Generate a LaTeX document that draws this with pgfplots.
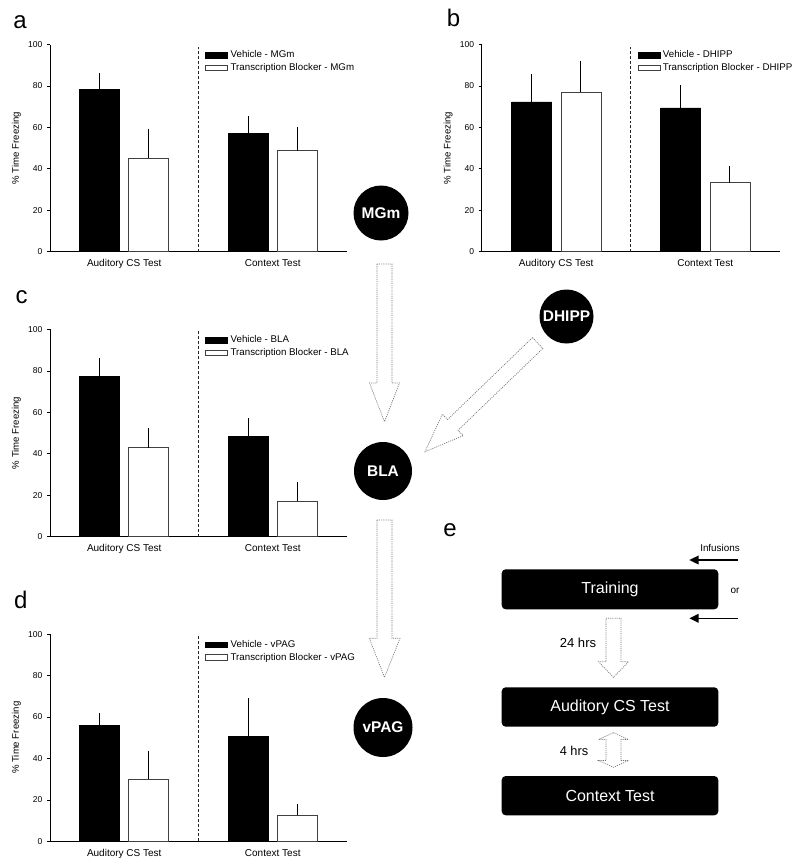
\documentclass[border=0pt]{standalone}
\usepackage{fontspec}
\setmainfont{Liberation Sans}
\usepackage{pgfplots}
\usepackage{pgfplotstable}
\pgfplotsset{compat=1.18}
\usetikzlibrary{arrows.meta}

% xv/xt: bar centres of Vehicle / Transcription Blocker bars (groups at 0 and 1)
\pgfplotstableread{
xv xt veh vehe tb tbe
-0.1655 0.1655 78.3 6.3 45.0 12.9
0.8345 1.1655 56.9 7.1 48.7 9.8
}\dataA
\pgfplotstableread{
xv xt veh vehe tb tbe
-0.1655 0.1655 72.3 12.1 76.9 13.5
0.8345 1.1655 69.4 9.4 33.3 6.6
}\dataB
\pgfplotstableread{
xv xt veh vehe tb tbe
-0.1655 0.1655 77.3 7.4 43.0 7.7
0.8345 1.1655 48.5 7.1 17.1 7.7
}\dataC
\pgfplotstableread{
xv xt veh vehe tb tbe
-0.1655 0.1655 55.8 4.4 30.0 12.2
0.8345 1.1655 50.7 16.7 12.6 4.0
}\dataD

\pgfplotsset{
  panel/.style={
    scale only axis, width=222.75pt, height=155.4pt,
    xmin=-0.5, xmax=1.5, ymin=0, ymax=100,
    axis x line*=bottom, axis y line*=left,
    axis line style={-, line width=0.6pt},
    xtick={0,1}, xticklabels={Auditory CS Test, Context Test},
    xtick style={draw=none},
    ytick={0,20,40,60,80,100},
    tick align=outside, major tick length=2.25pt,
    ytick style={line width=0.6pt, black},
    /pgf/number format/assume math mode=true,
    yticklabel style={font=\fontsize{6.4}{7.5}\selectfont},
    xticklabel style={font=\fontsize{7.5}{9}\selectfont},
    ylabel={\% Time Freezing},
    every axis y label/.style={at={(axis description cs:-0.113,0.5)}, rotate=90, anchor=center, font=\fontsize{7.2}{8.5}\selectfont},
    clip=false,
    legend style={at={(axis description cs:0.522,0.985)}, anchor=north west, draw=none, fill=none,
      font=\fontsize{7.3}{8}\selectfont, inner sep=0pt, row sep=-1.2pt},
    legend cell align=left,
  },
  ebar/.style={error bars/.cd, y dir=plus, y explicit,
    error bar style={line width=0.6pt, black},
    error mark options={mark size=2.4pt, line width=0.6pt, black}},
}

\newcommand{\bars}[2]{%
  \addlegendimage{legend image code/.code={\draw[fill=black,draw=black] (0pt,-2.2pt) rectangle (16.5pt,2.2pt);}}
  \addlegendentry{Vehicle - #2}
  \addlegendimage{legend image code/.code={\draw[fill=white,draw=black!75,line width=0.5pt] (0pt,-2.2pt) rectangle (16.5pt,2.2pt);}}
  \addlegendentry{Transcription Blocker - #2}
  \addplot[ybar, forget plot, bar width=30pt, bar shift=0pt, fill=black, draw=black, line width=0.5pt, ebar]
    table[x=xv, y=veh, y error=vehe] {#1};
  \addplot[ybar, forget plot, bar width=30pt, bar shift=0pt, fill=white, draw=black!75, line width=0.5pt, ebar]
    table[x=xt, y=tb, y error=tbe] {#1};
  \draw[black!85, line width=0.75pt, dash pattern=on 2.2pt off 1.5pt] (axis cs:0.5,0) -- (axis cs:0.5,100);
}

\begin{document}
\begin{tikzpicture}
\begin{scope}[x=0.75pt, y=-0.75pt]
  \useasboundingbox (0,0) rectangle (800,865);
\end{scope}

% panel a
\begin{axis}[panel, at={(37.5pt,-188.78pt)}, anchor=south west]
  \bars{\dataA}{MGm}
\end{axis}
% panel b
\begin{axis}[panel, width=223.5pt, at={(361.3pt,-188.78pt)}, anchor=south west]
  \bars{\dataB}{DHIPP}
\end{axis}
% panel c
\begin{axis}[panel, at={(37.5pt,-402.5pt)}, anchor=south west]
  \bars{\dataC}{BLA}
\end{axis}
% panel d
\begin{axis}[panel, at={(37.5pt,-631.0pt)}, anchor=south west]
  \bars{\dataD}{vPAG}
\end{axis}

\begin{scope}[x=0.75pt, y=-0.75pt]
  % panel letters
  \node[anchor=base, font=\fontsize{18}{20}\selectfont, inner sep=0pt] at (20,28.3) {a};
  \node[anchor=base, font=\fontsize{18}{20}\selectfont, inner sep=0pt] at (453.5,26.7) {b};
  \node[anchor=base, font=\fontsize{18}{20}\selectfont, inner sep=0pt] at (21.7,303.3) {c};
  \node[anchor=base, font=\fontsize{18}{20}\selectfont, inner sep=0pt] at (20.8,608.3) {d};
  \node[anchor=base, font=\fontsize{18}{20}\selectfont, inner sep=0pt] at (450,536.7) {e};

  % circles
  \fill[black] (381,213) circle[radius=27.5];
  \node[white, font=\bfseries\fontsize{11.6}{13}\selectfont] at (381,213) {MGm};
  \fill[black] (566.5,316.5) circle[radius=27];
  \node[white, font=\bfseries\fontsize{11.6}{13}\selectfont] at (566.5,316.5) {DHIPP};
  \fill[black] (383,471) circle[radius=29];
  \node[white, font=\bfseries\fontsize{11.6}{13}\selectfont] at (383,471) {BLA};
  \fill[black] (383,727.5) circle[radius=29.5];
  \node[white, font=\bfseries\fontsize{11.6}{13}\selectfont] at (383,727.5) {vPAG};

  % dotted block arrows
  \tikzset{blk/.style={draw=black!55, line width=0.5pt, dash pattern=on 0.8pt off 0.8pt}}
  \draw[blk] (377,264) -- (392,264) -- (392,383) -- (399.5,383) -- (384.5,421.7) -- (369.5,383) -- (377,383) -- cycle;
  \draw[blk] (377,520) -- (392,520) -- (392,638.3) -- (400,638.3) -- (384.5,677.3) -- (369.3,638.3) -- (377,638.3) -- cycle;
  \draw[blk] (532.5,337.6) -- (447.6,419.5) -- (442.4,414.1) -- (425,451.7) -- (463.2,435.7) -- (458,430.3) -- (542.9,348.4) -- cycle;
  % panel e arrows
  \draw[blk] (606,618.3) -- (621,618.3) -- (621,661.7) -- (628.5,661.7) -- (613.5,677.3) -- (598.5,661.7) -- (606,661.7) -- cycle;
  \draw[blk] (613.5,732.7) -- (628.5,739.5) -- (621,739.5) -- (621,760.5) -- (628.5,760.5) -- (613.5,767.3) -- (598.5,760.5) -- (606,760.5) -- (606,739.5) -- (598.5,739.5) -- cycle;

  % boxes
  \fill[black, rounded corners=3pt] (501.7,569.3) rectangle (718.3,609.3);
  \node[white, font=\fontsize{12}{14}\selectfont] at (610,589.3) {Training};
  \fill[black, rounded corners=3pt] (501.7,687.3) rectangle (718.3,726.7);
  \node[white, font=\fontsize{12}{14}\selectfont] at (610,707) {Auditory CS Test};
  \fill[black, rounded corners=3pt] (501.7,776) rectangle (718.3,815.3);
  \node[white, font=\fontsize{12}{14}\selectfont] at (610,795.7) {Context Test};

  % infusion arrows and labels
  \draw[line width=1.1pt, -{Triangle[length=7pt,width=6.5pt]}] (738,560) -- (689.3,560);
  \draw[line width=1.1pt, -{Triangle[length=7pt,width=6.5pt]}] (738,618.3) -- (689.3,618.3);
  \node[font=\fontsize{7.4}{9}\selectfont] at (720,547.7) {Infusions};
  \node[font=\fontsize{7.5}{9}\selectfont] at (735,590.7) {or};
  \node[font=\fontsize{9.8}{11}\selectfont] at (578,643.3) {24 hrs};
  \node[font=\fontsize{9.6}{11}\selectfont] at (574,751) {4 hrs};
\end{scope}
\end{tikzpicture}
\end{document}
